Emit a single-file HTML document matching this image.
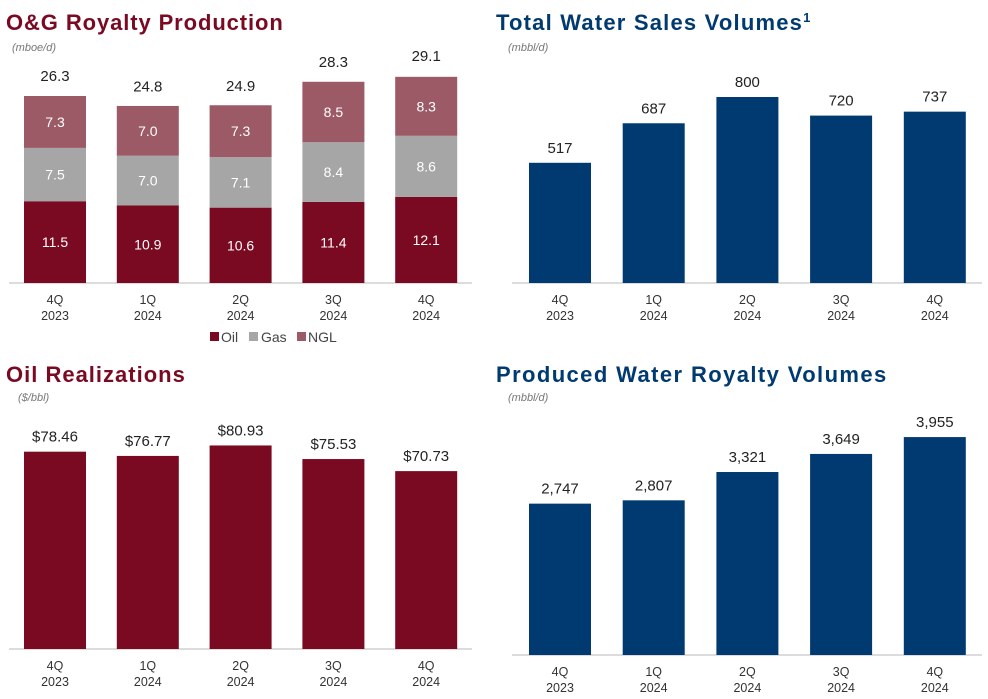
<!DOCTYPE html>
<html><head><meta charset="utf-8"><style>
body{margin:0;width:988px;height:699px;background:#fff;overflow:hidden;font-family:"Liberation Sans",sans-serif}
svg{display:block}
</style></head><body>
<svg id="s" width="988" height="699" xmlns="http://www.w3.org/2000/svg">
<text x="6" y="30" font-size="22" font-weight="bold" letter-spacing="0.9" fill="#7a0a22">O&amp;G Royalty Production</text>
<text x="12" y="51" font-size="11" font-style="italic" fill="#777">(mboe/d)</text>
<text x="496" y="30" font-size="22" font-weight="bold" letter-spacing="1.2" fill="#003a70">Total Water Sales Volumes<tspan font-size="13" dy="-8">1</tspan></text>
<text x="508" y="51" font-size="11" font-style="italic" fill="#777">(mbbl/d)</text>
<text x="6" y="382" font-size="22" font-weight="bold" letter-spacing="1.0" fill="#7a0a22">Oil Realizations</text>
<text x="18" y="401" font-size="11" font-style="italic" fill="#777">($/bbl)</text>
<text x="496" y="382" font-size="22" font-weight="bold" letter-spacing="1.4" fill="#003a70">Produced Water Royalty Volumes</text>
<text x="508" y="401" font-size="11" font-style="italic" fill="#777">(mbbl/d)</text>
<g font-size="14" fill="#444">
<rect x="210" y="332" width="9" height="9" fill="#7a0a22"/><text x="221" y="342">Oil</text>
<rect x="249" y="332" width="9" height="9" fill="#a6a6a6"/><text x="261" y="342">Gas</text>
<rect x="297" y="332" width="9" height="9" fill="#9b5a66"/><text x="308" y="342">NGL</text>
</g>
</svg>
<script>
const quarters=["4Q","1Q","2Q","3Q","4Q"];
const years=["2023","2024","2024","2024","2024"];
const oilProd=[11.5,10.9,10.6,11.4,12.1];
const gasProd=[7.5,7.0,7.1,8.4,8.6];
const nglProd=[7.3,7.0,7.3,8.5,8.3];
const totalProd=[26.3,24.8,24.9,28.3,29.1];
const oilPrice=[78.46,76.77,80.93,75.53,70.73];
const waterSales=[517,687,800,720,737];
const producedWater=[2747,2807,3321,3649,3955];

const s=document.getElementById('s');
const NS="http://www.w3.org/2000/svg";
function el(t,a,txt){const e=document.createElementNS(NS,t);for(const k in a)e.setAttribute(k,a[k]);if(txt!==undefined)e.textContent=txt;s.appendChild(e);return e;}
function xPos(x0,i,p){return x0+i*p;}
function axis(x1,x2,y,labY,x0,p,pfx){
  const l=el('line',{x1:x1,x2:x2,y1:y,y2:y,stroke:'#d0d0d0','stroke-width':1.5});
  
  
  quarters.forEach((q,i)=>{
    const cx=xPos(x0,i,p)+31;
    const t=el('text',{x:cx,y:labY,'text-anchor':'middle','font-size':12.5,fill:'#333'},q);
    
    
    const t2=el('text',{x:cx,y:labY+16,'text-anchor':'middle','font-size':12.5,fill:'#333'},years[i]);
    
    
  });
}
(function(){
  const base=283,k=7.11,x0=24,p=92.8;
  axis(9,472,base,304,x0,p,'production');
  const series=[[oilProd,'#7a0a22','oil'],[gasProd,'#a6a6a6','gas'],[nglProd,'#9b5a66','ngl']];
  quarters.forEach((q,i)=>{
    let y=base;const x=xPos(x0,i,p);
    series.forEach(([arr,c,n])=>{
      const h=arr[i]*k;y-=h;
      const r=el('rect',{x:x,y:y,width:62,height:h,fill:c});
      
      
      const t=el('text',{x:x+31,y:y+h/2+5,'text-anchor':'middle','font-size':14,fill:'#fff'},arr[i].toFixed(1));
      
      
    });
    const t=el('text',{x:x+31,y:base-totalProd[i]*k-15,'text-anchor':'middle','font-size':15,fill:'#222'},totalProd[i].toFixed(1));
    
    
  });
})();
function simple(arr,base,k,x0,p,ax1,ax2,labY,color,fmt,pfx){
  axis(ax1,ax2,base,labY,x0,p,pfx);
  arr.forEach((v,i)=>{
    const x=xPos(x0,i,p),h=v*k;
    const r=el('rect',{x:x,y:base-h,width:62,height:h,fill:color});
    
    
    const t=el('text',{x:x+31,y:base-h-10,'text-anchor':'middle','font-size':15,fill:'#222'},fmt(v));
    
    
  });
}
simple(oilPrice,649,2.515,24,92.8,9,472,670,'#7a0a22',v=>'$'+v.toFixed(2),'oil-price');
simple(waterSales,283,0.2325,529,93.7,512,982,304,'#003a70',v=>String(v),'water-sales');
simple(producedWater,655,0.0551,529,93.7,512,982,676,'#003a70',v=>v.toLocaleString('en-US'),'produced-water');
</script>
</body></html>
